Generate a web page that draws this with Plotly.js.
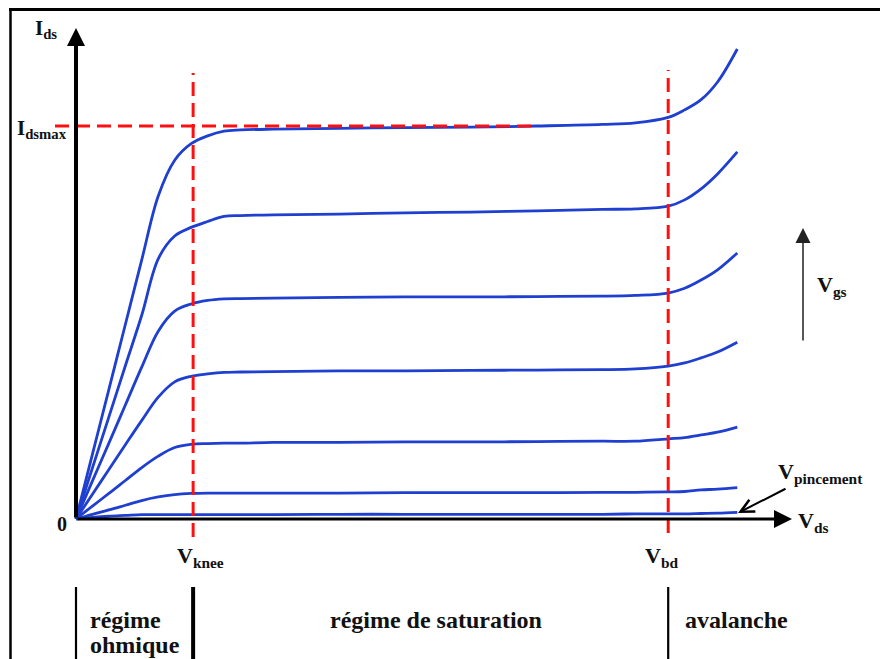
<!DOCTYPE html>
<html><head><meta charset="utf-8">
<script src="https://cdn.plot.ly/plotly-3.0.1.min.js"></script>
<style>html,body{margin:0;padding:0;background:#fff;}#chart{width:880px;height:659px;}</style>
</head><body><div id="chart"></div>
<script>
// ---- data (Vds in V, Ids normalised to Idsmax = 1) ----
const vds  = [0, 0.5, 1, 1.5, 2, 2.5, 3, 3.5, 4, 4.5, 5, 6, 8, 10, 12, 14, 16, 17, 18, 18.5, 19, 19.5, 20.1];
const ids1 = [0, 0.165, 0.330, 0.495, 0.660, 0.822, 0.913, 0.955, 0.975, 0.987, 0.990, 0.992, 0.994, 0.996, 0.997, 1.000, 1.004, 1.008, 1.022, 1.041, 1.067, 1.112, 1.196];
const ids2 = [0, 0.130, 0.260, 0.390, 0.519, 0.662, 0.720, 0.742, 0.757, 0.770, 0.772, 0.774, 0.776, 0.779, 0.781, 0.784, 0.788, 0.789, 0.796, 0.812, 0.840, 0.878, 0.934];
const ids3 = [0, 0.097, 0.193, 0.290, 0.387, 0.478, 0.529, 0.547, 0.556, 0.560, 0.561, 0.562, 0.564, 0.565, 0.565, 0.566, 0.567, 0.569, 0.575, 0.587, 0.608, 0.634, 0.677];
const ids4 = [0, 0.063, 0.126, 0.189, 0.251, 0.310, 0.349, 0.363, 0.369, 0.373, 0.374, 0.375, 0.377, 0.377, 0.378, 0.379, 0.380, 0.382, 0.389, 0.397, 0.410, 0.425, 0.450];
const ids5 = [0, 0.033, 0.065, 0.098, 0.131, 0.160, 0.182, 0.190, 0.192, 0.193, 0.193, 0.195, 0.195, 0.196, 0.196, 0.197, 0.198, 0.198, 0.204, 0.207, 0.214, 0.221, 0.234];
const ids6 = [0, 0.012, 0.023, 0.035, 0.047, 0.056, 0.062, 0.065, 0.066, 0.066, 0.066, 0.066, 0.066, 0.067, 0.067, 0.067, 0.068, 0.068, 0.069, 0.070, 0.074, 0.076, 0.080];
const ids7 = [0, 0.004, 0.007, 0.009, 0.011, 0.011, 0.011, 0.011, 0.011, 0.011, 0.011, 0.011, 0.012, 0.012, 0.012, 0.012, 0.012, 0.013, 0.013, 0.013, 0.014, 0.015, 0.017];
const curves = [ids1, ids2, ids3, ids4, ids5, ids6, ids7];

const V_KNEE = 3.56;
const V_BD = 18.0;
const IDS_MAX = 1.0;

// ---- layout geometry ----
const W = 880, H = 659, X0 = 76, Y0 = 519, SX = 32.9, SY = 393;
const X = px => (px - X0) / SX;
const Y = py => (Y0 - py) / SY;
const SERIF = '"Liberation Serif", "Times New Roman", Times, serif';
const BLUE = '#1f3fd0';
const RED = '#ff1010';
const INK = '#111111';

const traces = curves.map(c => ({
  x: vds, y: c, type: 'scatter', mode: 'lines',
  line: {color: BLUE, width: 2.8, shape: 'spline', smoothing: 1.0},
  hoverinfo: 'skip', showlegend: false
}));

function label(text, px, py, size, xanchor, yanchor) {
  return {xref: 'x', yref: 'y', x: X(px), y: Y(py), text: '<b>' + text + '</b>', showarrow: false,
    xanchor: xanchor || 'left', yanchor: yanchor || 'middle',
    font: {family: SERIF, size: size, color: INK}};
}
function arrow(x0, y0, x1, y1, width, size, head, color) {
  return {xref: 'x', yref: 'y', axref: 'x', ayref: 'y', x: x1, y: y1, ax: x0, ay: y0,
    text: '', showarrow: true, arrowhead: head, arrowsize: size, arrowwidth: width,
    arrowcolor: color, standoff: 0, startstandoff: 0};
}

const dash = '14px,7px';
const shapes = [
  // frame
  {type: 'line', xref: 'paper', yref: 'paper', x0: 10.5 / W, x1: 10.5 / W, y0: 1 - 9 / H, y1: 0, line: {color: '#000', width: 2.5}},
  {type: 'line', xref: 'paper', yref: 'paper', x0: 9 / W, x1: 1, y0: 1 - 9.5 / H, y1: 1 - 9.5 / H, line: {color: '#000', width: 3}},
  // dashed guides
  {type: 'line', xref: 'x', yref: 'y', x0: V_KNEE, x1: V_KNEE, y0: Y(537), y1: Y(73), line: {color: RED, width: 3, dash: dash}},
  {type: 'line', xref: 'x', yref: 'y', x0: V_BD, x1: V_BD, y0: Y(533), y1: Y(70), line: {color: RED, width: 3, dash: dash}},
  {type: 'line', xref: 'x', yref: 'y', x0: X(55), x1: X(533), y0: IDS_MAX, y1: IDS_MAX, line: {color: RED, width: 3, dash: dash}},
  // region separators
  {type: 'line', xref: 'x', yref: 'y', x0: 0, x1: 0, y0: Y(587), y1: Y(660), line: {color: '#000', width: 2.2}},
  {type: 'line', xref: 'x', yref: 'y', x0: V_KNEE, x1: V_KNEE, y0: Y(587), y1: Y(660), line: {color: '#000', width: 4}},
  {type: 'line', xref: 'x', yref: 'y', x0: V_BD, x1: V_BD, y0: Y(587), y1: Y(660), line: {color: '#000', width: 2.2}}
];

const annotations = [
  arrow(0, 0, X(792), 0, 3, 1.2, 2, '#000'),
  arrow(0, 0, 0, Y(28), 4, 0.9, 2, '#000'),
  arrow(X(803), Y(342), X(803), Y(228), 1.5, 2.0, 2, '#222'),
  arrow(X(787), Y(488), X(738), Y(513), 2, 1.3, 5, '#000'),
  label('I<sub>ds</sub>', 33, 29, 21),
  label('I<sub>dsmax</sub>', 15, 129, 21),
  label('0', 62, 524, 20, 'center'),
  label('V<sub>knee</sub>', 175, 557, 22),
  label('V<sub>bd</sub>', 643, 557, 22),
  label('V<sub>ds</sub>', 796, 522, 22),
  label('V<sub>pincement</sub>', 776, 473, 22),
  label('V<sub>gs</sub>', 815, 286, 22),
  label('régime', 88, 620, 24),
  label('ohmique', 88, 645, 24),
  label('régime de saturation', 436, 620, 24, 'center'),
  label('avalanche', 683, 620, 24)
];

const layout = {
  width: W, height: H, autosize: false,
  margin: {l: 0, r: 0, t: 0, b: 0, pad: 0},
  paper_bgcolor: '#fff', plot_bgcolor: '#fff',
  xaxis: {range: [X(0), X(W)], visible: false, fixedrange: true},
  yaxis: {range: [Y(H), Y(0)], visible: false, fixedrange: true},
  shapes: shapes, annotations: annotations, showlegend: false
};

Plotly.newPlot('chart', traces, layout, {staticPlot: true, displayModeBar: false});
</script>
</body></html>
